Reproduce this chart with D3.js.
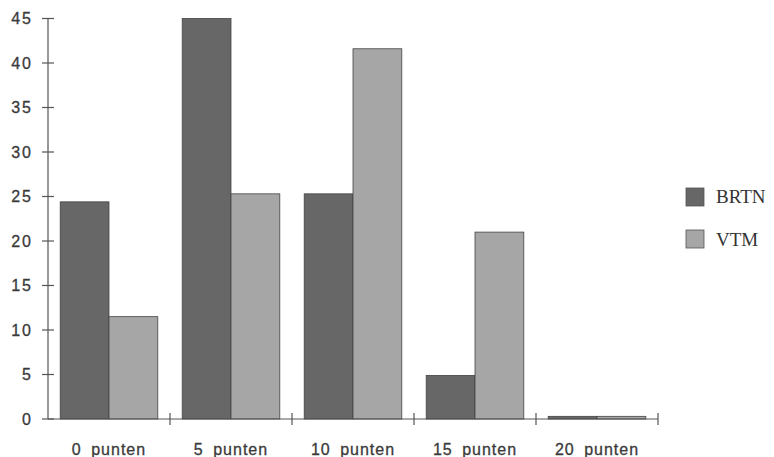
<!DOCTYPE html>
<html><head><meta charset="utf-8">
<script src="https://cdn.jsdelivr.net/npm/d3@7"></script>
<style>body{margin:0;background:#fff}</style>
</head><body>
<svg id="c" width="774" height="457"></svg>
<script>
const categories = ["0 punten","5 punten","10 punten","15 punten","20 punten"];
const series = ["BRTN","VTM"];
const brtn = [24.4, 45.0, 25.3, 4.9, 0.3];
const vtm = [11.5, 25.3, 41.6, 21.0, 0.3];
const yTicks = [0,5,10,15,20,25,30,35,40,45];
const colors = {BRTN:"#676767", VTM:"#a6a6a6"};

const svg = d3.select("#c");
const x0 = d3.scaleBand().domain(categories).range([48,658]);
const bw = x0.bandwidth();
const pad = bw*0.1;
const x1 = d3.scaleBand().domain(series).range([pad, bw-pad]);
const y = d3.scaleLinear().domain([0,45]).range([419,18.5]);

const data = categories.map((c,i)=>({cat:c, vals:[{s:"BRTN",v:brtn[i]},{s:"VTM",v:vtm[i]}]}));

// bars
const g = svg.append("g");
g.selectAll("g.cat").data(data).join("g")
 .attr("transform", d=>`translate(${x0(d.cat)},0)`)
 .selectAll("rect").data(d=>d.vals).join("rect")
 .attr("x", d=>x1(d.s)).attr("width", x1.bandwidth())
 .attr("y", d=>y(d.v)).attr("height", d=>y(0)-y(d.v))
 .attr("fill", d=>colors[d.s]).attr("stroke","#444").attr("stroke-width",0.8);

// axes
const axisColor = "#555";
svg.append("line").attr("x1",48).attr("x2",48).attr("y1",y(45)).attr("y2",y(0)).attr("stroke",axisColor).attr("stroke-width",1.2);
svg.append("line").attr("x1",48).attr("x2",658).attr("y1",y(0)).attr("y2",y(0)).attr("stroke",axisColor).attr("stroke-width",1.2);

svg.selectAll("line.yt").data(yTicks).join("line")
 .attr("x1",42).attr("x2",54).attr("y1",d=>y(d)).attr("y2",d=>y(d))
 .attr("stroke",axisColor).attr("stroke-width",1.2);
svg.selectAll("text.yl").data(yTicks).join("text")
 .attr("x",33).attr("y",d=>y(d)).attr("dy","0.36em").attr("text-anchor","end")
 .attr("font-family","Liberation Sans, Arial, sans-serif").attr("font-size",16)
 .attr("letter-spacing","2px").attr("stroke","#3a3a3a").attr("stroke-width",0.3)
 .attr("fill","#3a3a3a").text(d=>d);

const bounds = categories.map(c=>x0(c)+bw);
svg.selectAll("line.xt").data(bounds).join("line")
 .attr("x1",d=>d).attr("x2",d=>d).attr("y1",y(0)-6).attr("y2",y(0)+6)
 .attr("stroke",axisColor).attr("stroke-width",1.2);
svg.selectAll("text.xl").data(categories).join("text")
 .attr("x",d=>x0(d)+bw/2).attr("y",455).attr("text-anchor","middle")
 .attr("font-family","Liberation Sans, Arial, sans-serif").attr("font-size",16)
 .attr("letter-spacing","1px").attr("word-spacing","4px")
 .attr("stroke","#3a3a3a").attr("stroke-width",0.3).attr("fill","#3a3a3a").text(d=>d);

// legend
const lg = svg.append("g");
series.forEach((s,i)=>{
  lg.append("rect").attr("x",686).attr("y",188+i*42).attr("width",18).attr("height",18)
    .attr("fill",colors[s]).attr("stroke","#555").attr("stroke-width",0.8);
  lg.append("text").attr("x",716).attr("y",203+i*43)
    .attr("font-family","Liberation Serif, Times New Roman, serif").attr("font-size",19)
    .attr("fill","#333").text(s);
});
</script>
</body></html>
